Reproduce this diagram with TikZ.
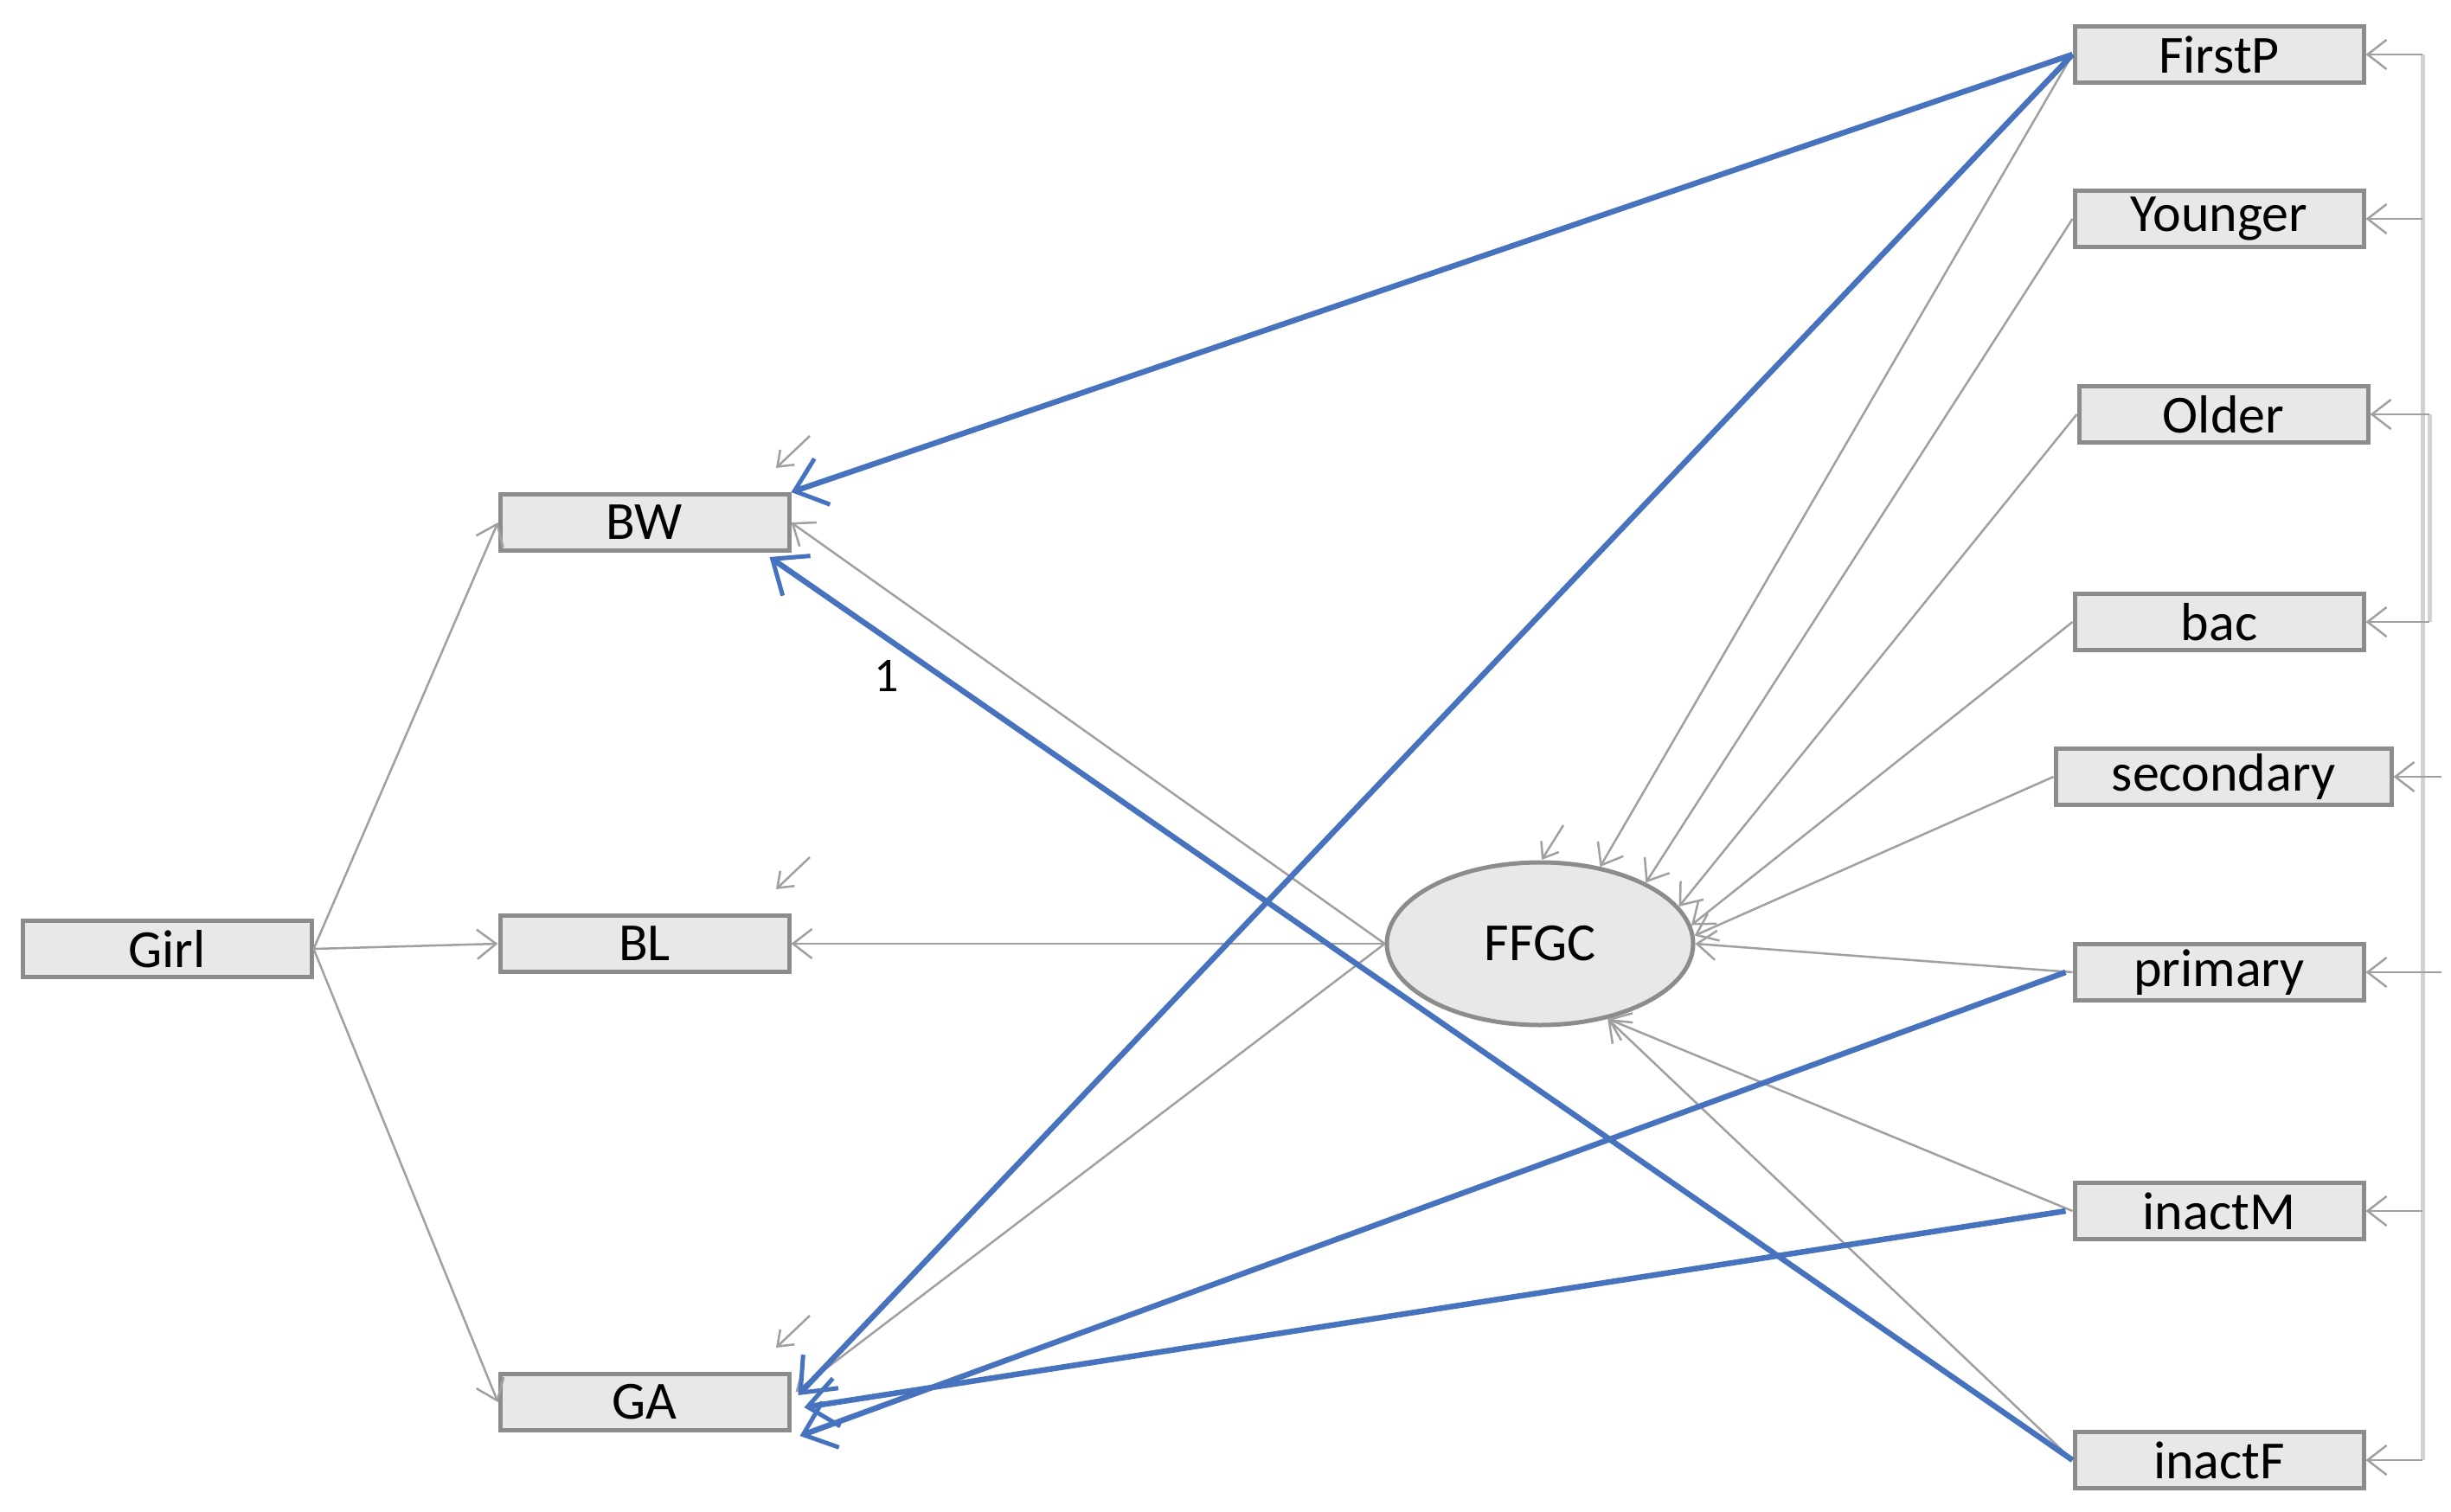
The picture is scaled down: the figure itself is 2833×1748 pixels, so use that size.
\documentclass[tikz,border=0pt]{standalone}
\usepackage{fontspec}
\setmainfont{Carlito}
\usetikzlibrary{arrows.meta,calc,shapes.geometric}
\definecolor{bl}{RGB}{70,114,190}
\definecolor{gl}{RGB}{160,160,160}
\begin{document}
\begin{tikzpicture}[x=1pt,y=-1pt,
  box/.style={draw=gray!90,fill=gray!18,line width=5pt,minimum width=334pt,minimum height=65pt,inner sep=0pt,font=\fontsize{62}{66}\selectfont},
  thin/.style={draw=gl,line width=2.5pt,-{Straight Barb[length=22pt,width=34pt,line width=2.5pt]}},
  blue/.style={draw=bl,line width=6.5pt,-{Straight Barb[length=34pt,width=56pt,line width=5pt]}},
  brk/.style={draw=gray!35,line width=5pt}]
\useasboundingbox (0,0) rectangle (2833,1748);
\node[box] (Girl) at (193,1097) {Girl};
\node[box] (BW) at (745,604) {BW};
\node[box] (BL) at (745,1091) {BL};
\node[box] (GA) at (745,1621) {GA};
\node[ellipse,draw=gray!90,fill=gray!18,line width=5pt,minimum width=354pt,minimum height=188pt,inner sep=0pt,font=\fontsize{62}{66}\selectfont] (FFGC) at (1780,1091) {FFGC};
\node[box] (FirstP) at (2565,63) {FirstP};
\node[box] (Younger) at (2565,253) {Younger};
\node[box] (Older) at (2570,479) {Older};
\node[box] (bac) at (2565,719) {bac};
\node[box,minimum width=388pt] (secondary) at (2570,898) {secondary};
\node[box] (primary) at (2565,1124) {primary};
\node[box] (inactM) at (2565,1400) {inactM};
\node[box] (inactF) at (2565,1688) {inactF};
% Girl paths
\draw[thin] (Girl.east) -- (BW.west);
\draw[thin] (Girl.east) -- (BL.west);
\draw[thin] (Girl.east) -- (GA.west);
% FFGC to outcomes
\draw[thin] (FFGC.west) -- (BW.east);
\draw[thin] (FFGC.west) -- (BL.east);
\draw[thin] (FFGC.west) -- ($(GA.east)+(5,-12)$);
% predictors to FFGC
\draw[thin] (FirstP.west) -- (FFGC.52);
\draw[thin] (Younger.west) -- (FFGC.30);
\draw[thin] (Older.west) -- (FFGC.15);
\draw[thin] (bac.west) -- (FFGC.7);
\draw[thin] (secondary.west) -- (FFGC.3);
\draw[thin] (primary.west) -- (FFGC.east);
\draw[thin] (inactM.west) -- (FFGC.-48);
\draw[thin] (inactF.west) -- (FFGC.-48);
% error terms
\foreach \n in {BW,BL,GA}{
  \coordinate (e\n) at ($(\n)+(191,-100)$);
  \draw[thin,-{Straight Barb[length=16pt,width=24pt,line width=2.5pt]}] (e\n) -- ($(\n)+(152,-63)$);
}
\coordinate (eF) at ($(FFGC)+(27,-137)$);
\draw[thin,-{Straight Barb[length=16pt,width=24pt,line width=2.5pt]}] (eF) -- ($(FFGC)+(2,-97)$);
% blue paths
\draw[blue] (FirstP.west) -- (BW.north east);
\draw[blue] (FirstP.west) -- ($(GA.east)+(8,-8)$);
\draw[blue] (inactF.west) -- ($(BW.south east)+(-25,5)$);
\node[font=\fontsize{56}{60}\selectfont] (one) at ($(BW)+(280,177)$) {1};
\draw[blue] ($(primary.west)+(-8,0)$) -- ($(GA.south east)+(10,4)$);
\draw[blue] ($(inactM.west)+(-8,0)$) -- ($(GA.east)+(15,6)$);
% right brackets
\coordinate (vt) at (2800,63);
\coordinate (vb) at (2800,1688);
\draw[brk] (vt) -- (vb);
\foreach \n in {FirstP,Younger,inactM,inactF}{
  \draw[thin] (2800,0 |- \n.east) -- (\n.east);
}
\coordinate (ot) at (2808,479);
\coordinate (ob) at (2808,719);
\draw[brk] (ot) -- (ob);
\draw[thin] (ot) -- (Older.east);
\draw[thin] (ob) -- (bac.east);
\draw[thin] (2822,0 |- secondary.east) -- (secondary.east);
\draw[thin] (2822,0 |- primary.east) -- (primary.east);
\end{tikzpicture}
\end{document}
